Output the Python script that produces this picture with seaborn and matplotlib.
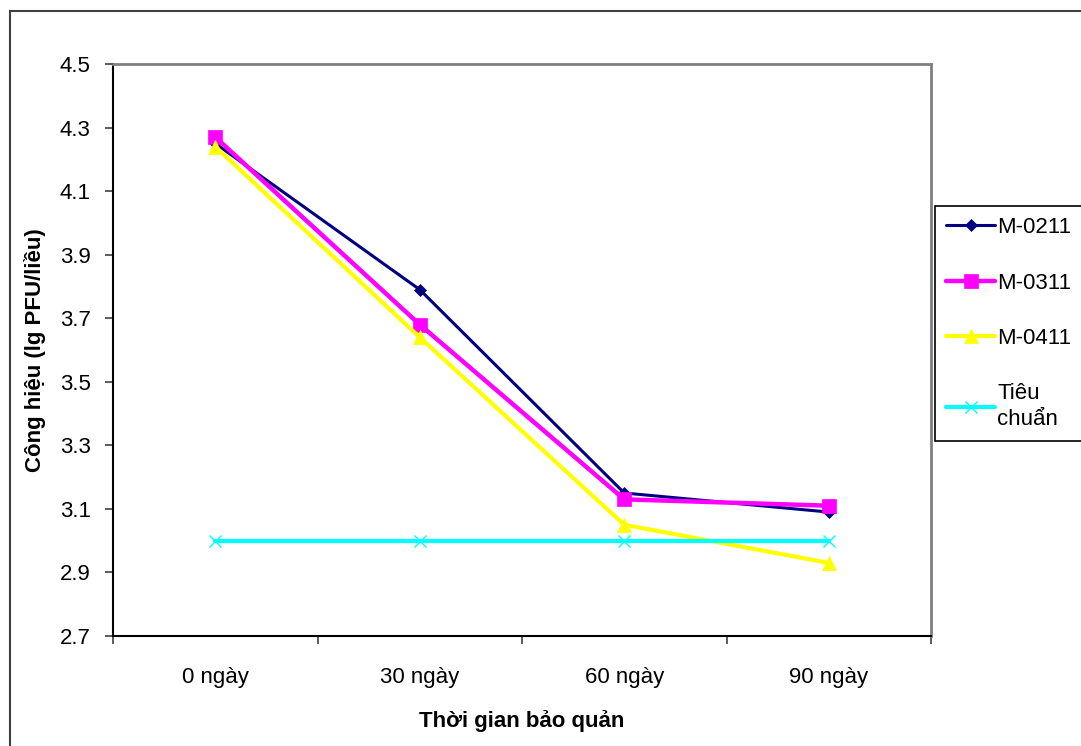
import matplotlib
matplotlib.use("Agg")
import matplotlib.pyplot as plt
import matplotlib.patches as mpatches
from matplotlib.ticker import FixedLocator, NullFormatter, FixedFormatter
import seaborn as sns
import pandas as pd

# ---- data ----
categories = ["0 ngày", "30 ngày", "60 ngày", "90 ngày"]
series_names = ["M-0211", "M-0311", "M-0411", "Tiêu\nchuẩn"]
m0211 = [4.25, 3.79, 3.15, 3.09]
m0311 = [4.27, 3.68, 3.13, 3.11]
m0411 = [4.24, 3.64, 3.05, 2.93]
tieu_chuan = [3.00, 3.00, 3.00, 3.00]
y_ticks = [2.7, 2.9, 3.1, 3.3, 3.5, 3.7, 3.9, 4.1, 4.3, 4.5]
x_label = "Thời gian bảo quản"
y_label = "Công hiệu (lg PFU/liều)"

values = [m0211, m0311, m0411, tieu_chuan]
colors = ["#000080", "#FF00FF", "#FFFF00", "#00FFFF"]
markers = ["D", "s", "^", "x"]
msizes = [6.5, 9.5, 9.5, 9]
lws = [2.2, 3.2, 3.0, 3.0]

sns.set_theme(style="white")
plt.rcParams["font.family"] = ["Liberation Sans", "DejaVu Sans"]
plt.rcParams["text.color"] = "black"
plt.rcParams["axes.labelcolor"] = "black"
plt.rcParams["xtick.color"] = "black"
plt.rcParams["ytick.color"] = "black"

fig = plt.figure(figsize=(10.81, 7.46), dpi=100)
ax = fig.add_axes([113 / 1081, 1 - 636 / 746, (931 - 113) / 1081, (636 - 64) / 746])

for name, vals, c, m, ms, lw in zip(series_names, values, colors, markers, msizes, lws):
    df = pd.DataFrame({"x": list(range(len(categories))), "y": vals})
    sns.lineplot(data=df, x="x", y="y", ax=ax, color=c, marker=m, markersize=ms,
                 linewidth=lw, markeredgecolor=c, markeredgewidth=1.0 if m == "x" else 0.5,
                 label=name)

ax.set_xlim(-0.5, len(categories) - 0.5)
ax.set_ylim(y_ticks[0], y_ticks[-1])
ax.set_yticks(y_ticks)
ax.set_yticklabels([f"{v:.1f}" for v in y_ticks])

bounds = [i - 0.5 for i in range(len(categories) + 1)]
ax.xaxis.set_major_locator(FixedLocator(bounds))
ax.xaxis.set_major_formatter(NullFormatter())
ax.xaxis.set_minor_locator(FixedLocator(list(range(len(categories)))))
ax.xaxis.set_minor_formatter(FixedFormatter(categories))

ax.tick_params(axis="x", which="major", direction="out", length=6, width=1.2,
               color="#404040", bottom=True)
ax.tick_params(axis="x", which="minor", length=0, pad=22, labelsize=16, bottom=True)
ax.tick_params(axis="y", which="major", direction="out", length=6, width=1.2,
               color="#404040", pad=10, labelsize=16, left=True)

for s in ["left", "bottom"]:
    ax.spines[s].set_color("#000000")
    ax.spines[s].set_linewidth(1.5)
for s in ["top", "right"]:
    ax.spines[s].set_color("#808080")
    ax.spines[s].set_linewidth(2.0)

ax.set_xlabel(x_label, fontsize=16, fontweight="bold")
ax.set_ylabel(y_label, fontsize=16, fontweight="bold")
ax.xaxis.set_label_coords(0.5, -0.13)
ax.yaxis.set_label_coords(-0.082, 0.5)
ax.grid(False)

handles, labels = ax.get_legend_handles_labels()
ax.get_legend().remove()
leg = fig.legend(handles, labels, loc="upper left",
                 bbox_to_anchor=(935 / 1081, 1 - 206 / 746),
                 bbox_transform=fig.transFigure,
                 fontsize=16, frameon=True, fancybox=False, framealpha=1,
                 edgecolor="#000000", handlelength=2.2, handletextpad=0.1,
                 labelspacing=1.55, borderpad=0.5, borderaxespad=0)
leg.get_frame().set_linewidth(1.2)
for t in leg.get_texts():
    t.set_linespacing(1.3)
    t.set_color("black")

# outer chart border
fig.patches.append(mpatches.Rectangle((10 / 1081, -0.1), 1.2, 1 - 11 / 746 + 0.1,
                                      transform=fig.transFigure, fill=False,
                                      edgecolor="#404040", linewidth=1.5))

fig.savefig("out.png", dpi=100)
